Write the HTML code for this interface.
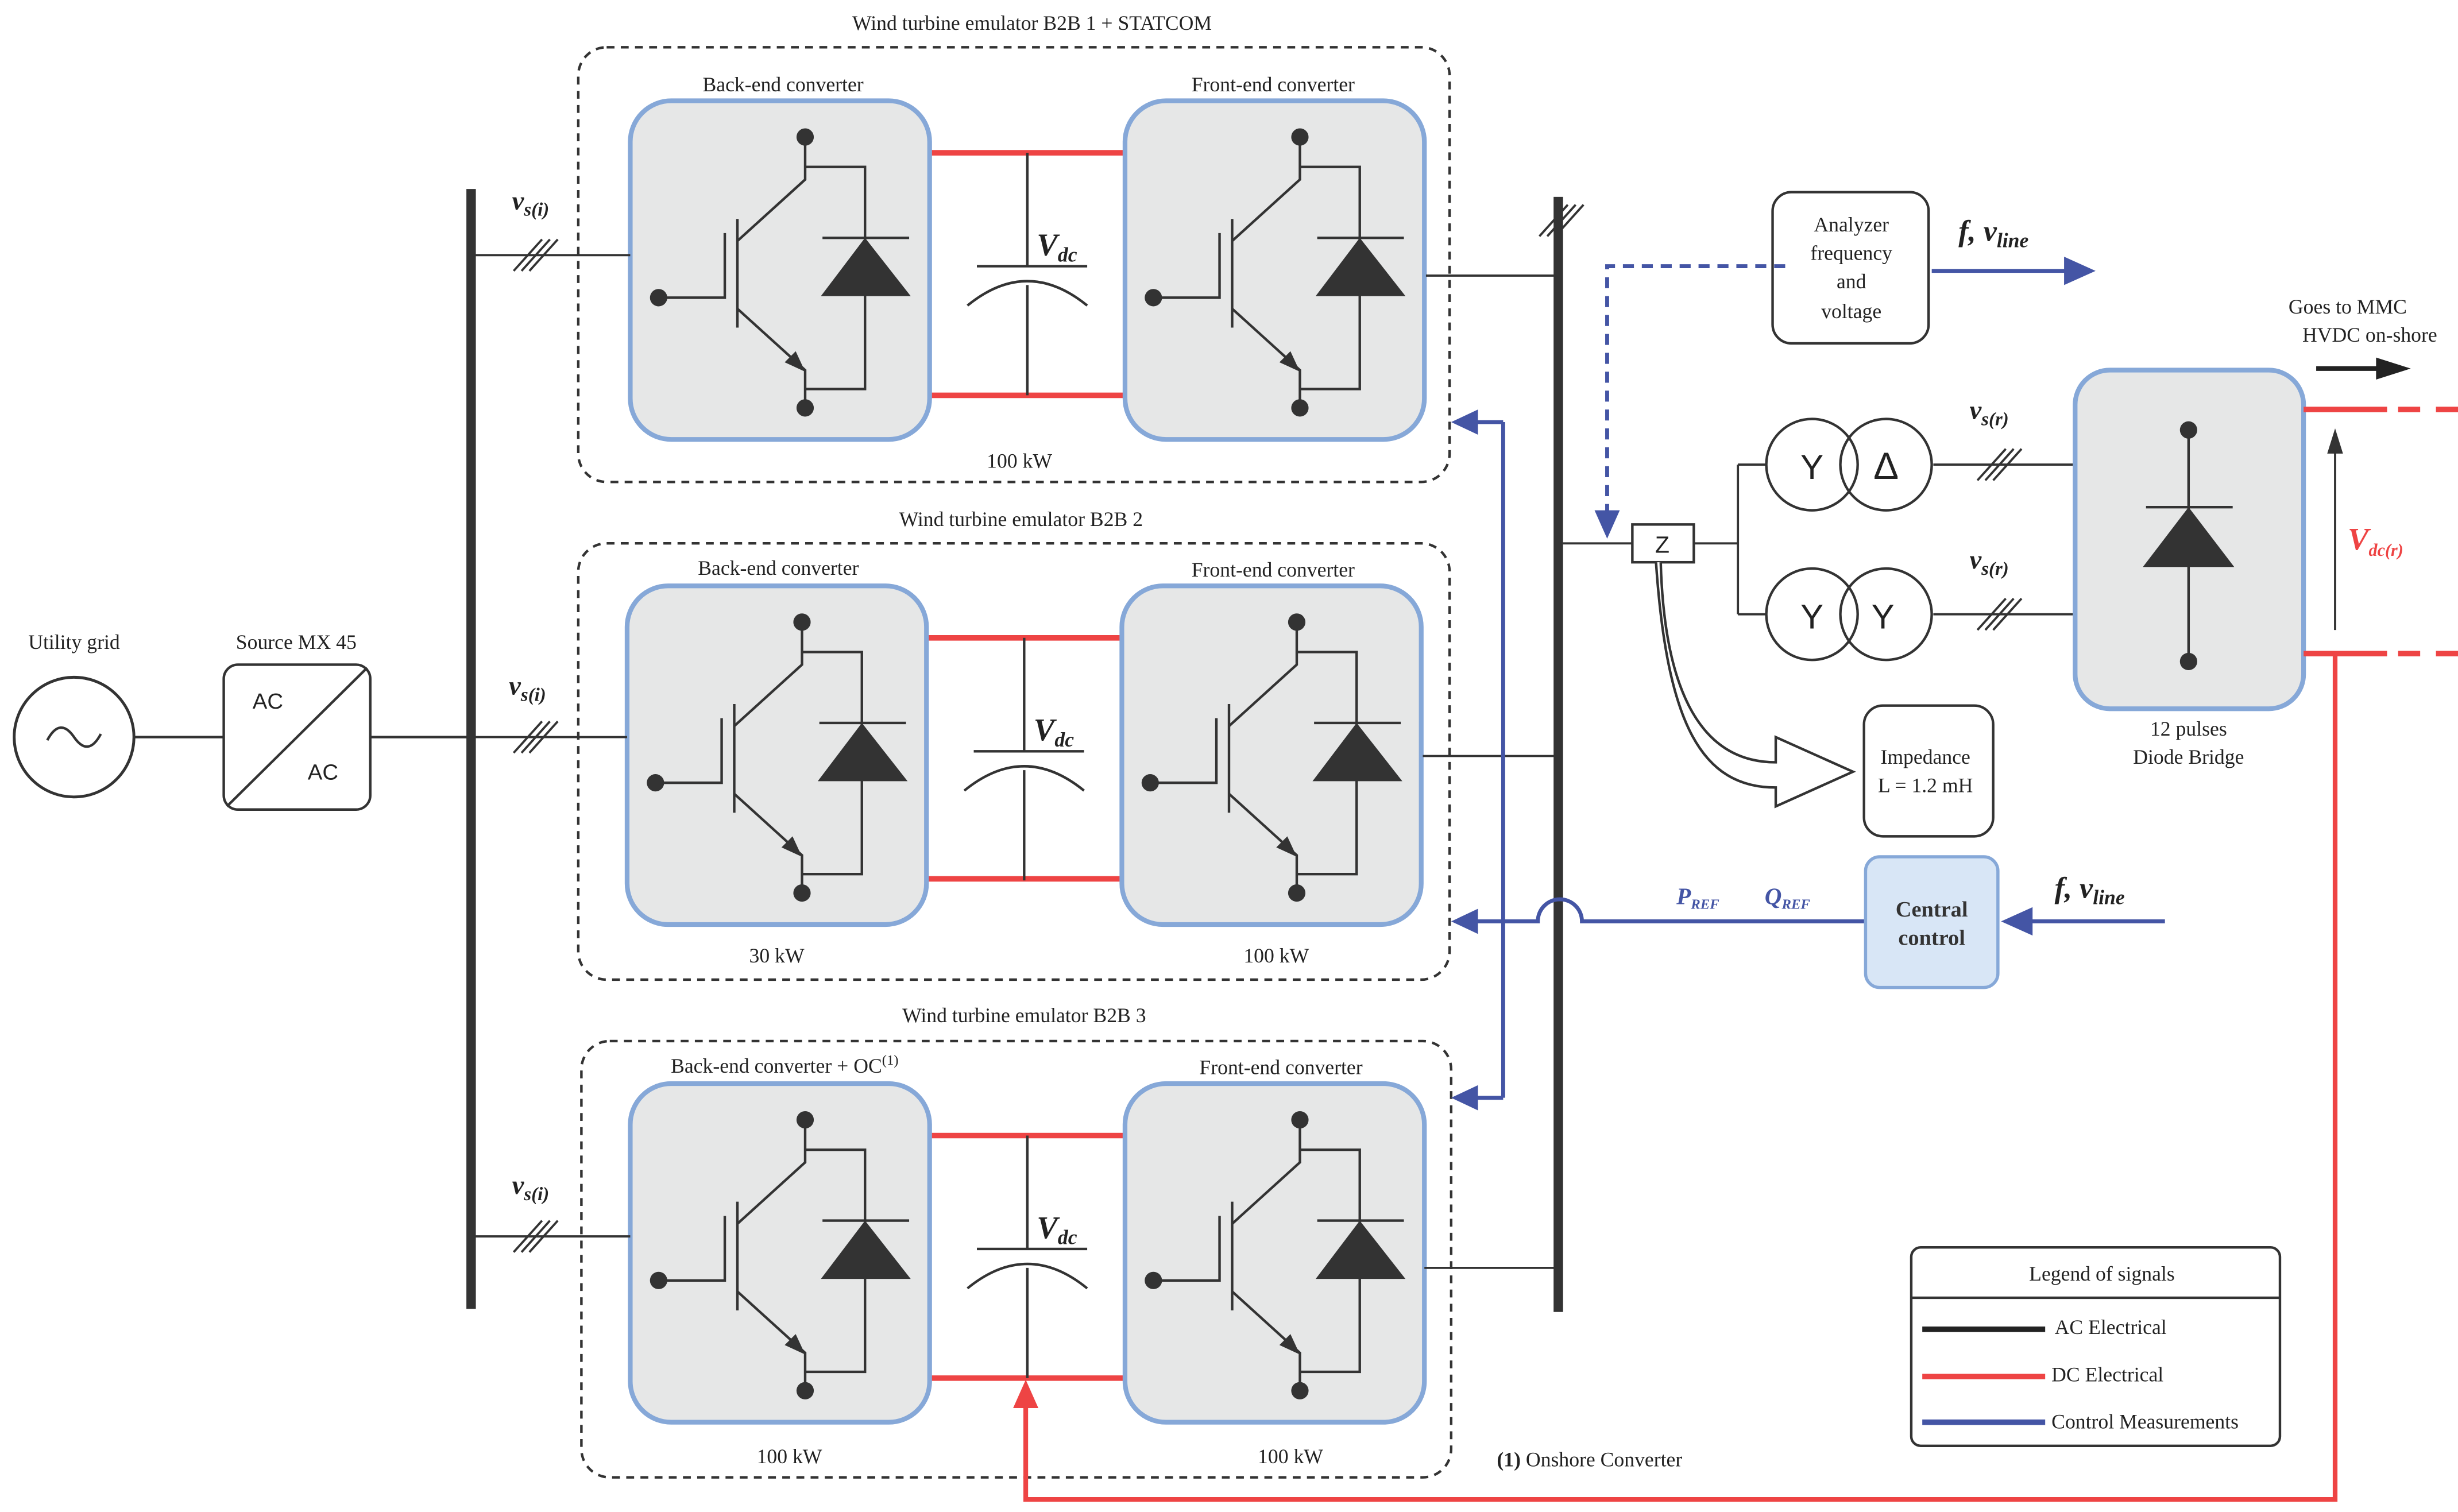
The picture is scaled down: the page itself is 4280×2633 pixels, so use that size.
<!DOCTYPE html>
<html><head><meta charset="utf-8"><style>
html,body{margin:0;padding:0;background:#fff;}
svg{display:block;}
text{font-family:"Liberation Serif",serif;fill:#222;}
.t{font-size:13px;}
.m{font-family:"Liberation Serif",serif;font-style:italic;font-weight:bold;}
</style></head><body>
<svg width="4280" height="2633" viewBox="0 0 1560 960" preserveAspectRatio="none" xmlns="http://www.w3.org/2000/svg">
<defs>
<g id="sw">
<rect x="0" y="0" width="190" height="215" rx="26" fill="#e6e7e7" stroke="#86a8d8" stroke-width="3"/>
<g stroke="#333" stroke-width="1.6" fill="none">
<path d="M111,23 V50 L68,89"/>
<path d="M111,42 H149 V183 H111"/>
<path d="M68,75 V144"/>
<path d="M60,84 V125 H18"/>
<path d="M68,132 L111,171 V195"/>
<path d="M122,87 H177"/>
</g>
<polygon points="149,87 121,124 178,124" fill="#333"/>
<polygon points="111,172 98,166 105,159" fill="#333"/>
<circle cx="111" cy="23" r="5.5" fill="#333"/>
<circle cx="111" cy="195" r="5.5" fill="#333"/>
<circle cx="18" cy="125" r="5.5" fill="#333"/>
</g>
<g id="cap">
<path d="M0,0 V72 M-32,72 H38 M0,84 V154" stroke="#333" stroke-width="1.6" fill="none"/>
<path d="M-38,97 Q0,66 38,97" stroke="#333" stroke-width="1.6" fill="none"/>
</g>
<g id="sl" stroke="#333" stroke-width="1.4"><path d="M-12,10 L6,-10 M-7,10 L11,-10 M-2,10 L16,-10"/></g>
</defs>

<!-- utility grid -->
<circle cx="47" cy="468" r="38" fill="#fff" stroke="#333" stroke-width="1.8"/>
<path d="M30,470 Q38,455 47,468 Q56,481 64,466" stroke="#333" stroke-width="1.6" fill="none"/>
<text x="47" y="412" text-anchor="middle" class="t">Utility grid</text>
<path d="M85,468 H142 M235,468 H300" stroke="#333" stroke-width="1.6"/>
<rect x="142" y="422" width="93" height="92" rx="9" fill="#fff" stroke="#333" stroke-width="1.6"/>
<path d="M144,512 L233,424" stroke="#333" stroke-width="1.6"/>
<text x="170" y="450" text-anchor="middle" font-family="Liberation Sans" style="font-family:'Liberation Sans',sans-serif" font-size="14">AC</text>
<text x="205" y="495" text-anchor="middle" style="font-family:'Liberation Sans',sans-serif" font-size="14">AC</text>
<text x="188" y="412" text-anchor="middle" class="t">Source MX 45</text>

<!-- buses -->
<rect x="296" y="120" width="6" height="711" fill="#333"/>
<rect x="986" y="125" width="6" height="708" fill="#333"/>

<!-- dashed boxes -->
<g fill="none" stroke="#333" stroke-width="1.6" stroke-dasharray="5,4">
<rect x="367" y="30" width="553" height="276" rx="18"/>
<rect x="367" y="345" width="553" height="277" rx="18"/>
<rect x="369" y="661" width="552" height="277" rx="18"/>
</g>
<text x="655" y="19" text-anchor="middle" class="t">Wind turbine emulator B2B 1 + STATCOM</text>
<text x="648" y="334" text-anchor="middle" class="t">Wind turbine emulator B2B 2</text>
<text x="650" y="649" text-anchor="middle" class="t">Wind turbine emulator B2B 3</text>

<!-- B2B1 -->
<path d="M589,97 H714 M589,251 H714" stroke="#ee4444" stroke-width="3.5"/>
<use href="#cap" x="652" y="97"/>
<text x="658" y="162" class="m" font-size="20">V<tspan font-size="13" dy="4">dc</tspan></text>
<use href="#sw" x="400" y="64"/>
<use href="#sw" x="714" y="64"/>
<text x="497" y="58" text-anchor="middle" class="t">Back-end converter</text>
<text x="808" y="58" text-anchor="middle" class="t">Front-end converter</text>
<text x="647" y="297" text-anchor="middle" class="t">100 kW</text>
<path d="M300,162 H400 M905,175 H989" stroke="#333" stroke-width="1.4"/>
<use href="#sl" x="338" y="162"/>
<text x="325" y="133" class="m" font-size="17">v<tspan font-size="12" dy="4">s(i)</tspan></text>

<!-- B2B2 -->
<path d="M587,405 H712 M587,558 H712" stroke="#ee4444" stroke-width="3.5"/>
<use href="#cap" x="650" y="405"/>
<text x="656" y="470" class="m" font-size="20">V<tspan font-size="13" dy="4">dc</tspan></text>
<use href="#sw" x="398" y="372"/>
<use href="#sw" x="712" y="372"/>
<text x="494" y="365" text-anchor="middle" class="t">Back-end converter</text>
<text x="808" y="366" text-anchor="middle" class="t">Front-end converter</text>
<text x="493" y="611" text-anchor="middle" class="t">30 kW</text>
<text x="810" y="611" text-anchor="middle" class="t">100 kW</text>
<path d="M300,468 H398 M903,480 H989" stroke="#333" stroke-width="1.4"/>
<use href="#sl" x="338" y="468"/>
<text x="323" y="441" class="m" font-size="17">v<tspan font-size="12" dy="4">s(i)</tspan></text>

<!-- B2B3 -->
<path d="M590,721 H714 M590,875 H714" stroke="#ee4444" stroke-width="3.5"/>
<use href="#cap" x="652" y="721"/>
<text x="658" y="786" class="m" font-size="20">V<tspan font-size="13" dy="4">dc</tspan></text>
<use href="#sw" x="400" y="688"/>
<use href="#sw" x="714" y="688"/>
<text x="498" y="681" text-anchor="middle" class="t">Back-end converter + OC<tspan font-size="9" dy="-5">(1)</tspan></text>
<text x="813" y="682" text-anchor="middle" class="t">Front-end converter</text>
<text x="501" y="929" text-anchor="middle" class="t">100 kW</text>
<text x="819" y="929" text-anchor="middle" class="t">100 kW</text>
<path d="M300,785 H400 M904,805 H989" stroke="#333" stroke-width="1.4"/>
<use href="#sl" x="338" y="785"/>
<text x="325" y="758" class="m" font-size="17">v<tspan font-size="12" dy="4">s(i)</tspan></text>

<!-- right bus top slashes -->
<use href="#sl" x="989" y="140"/>

<!-- blue control -->
<path d="M954,268 V697 M954,268 H930 M954,697 H930" stroke="#4455a5" stroke-width="2.5" fill="none"/>
<polygon points="921,268 938,260 938,276" fill="#4455a5"/>
<polygon points="921,697 938,689 938,705" fill="#4455a5"/>
<path d="M1184,585 H1004 A14,14 0 0 0 976,585 H930" stroke="#4455a5" stroke-width="2.5" fill="none"/>
<polygon points="921,585 938,577 938,593" fill="#4455a5"/>
<text x="1064" y="574" class="m" font-size="15" style="fill:#4455a5">P<tspan font-size="9" dy="3">REF</tspan></text>
<text x="1120" y="574" class="m" font-size="15" style="fill:#4455a5">Q<tspan font-size="9" dy="3">REF</tspan></text>
<rect x="1184" y="544" width="84" height="83" rx="9" fill="#d8e6f6" stroke="#86a8d8" stroke-width="2"/>
<text x="1226" y="582" text-anchor="middle" font-size="14" font-weight="bold" style="fill:#333">Central</text>
<text x="1226" y="600" text-anchor="middle" font-size="14" font-weight="bold" style="fill:#333">control</text>
<path d="M1374,585 H1285" stroke="#4455a5" stroke-width="2.5"/>
<polygon points="1270,585 1290,576 1290,594" fill="#4455a5"/>
<text x="1304" y="570" class="m" font-size="19">f, v<tspan font-size="13" dy="4">line</tspan></text>

<!-- analyzer -->
<rect x="1125" y="122" width="99" height="96" rx="12" fill="#fff" stroke="#333" stroke-width="1.6"/>
<text x="1175" y="147" text-anchor="middle" class="t">Analyzer</text>
<text x="1175" y="165" text-anchor="middle" class="t">frequency</text>
<text x="1175" y="183" text-anchor="middle" class="t">and</text>
<text x="1175" y="202" text-anchor="middle" class="t">voltage</text>
<path d="M1226,172 H1312" stroke="#4455a5" stroke-width="2.5"/>
<polygon points="1330,172 1310,163 1310,181" fill="#4455a5"/>
<text x="1243" y="153" class="m" font-size="19">f, v<tspan font-size="13" dy="4">line</tspan></text>
<path d="M1133,169 H1020 V326" stroke="#4455a5" stroke-width="2.5" stroke-dasharray="7,5" fill="none"/>
<polygon points="1020,342 1012,324 1028,324" fill="#4455a5"/>

<!-- Z and transformers -->
<path d="M992,345 H1036 M1075,345 H1103 M1103,295 V390 M1103,295 H1121 M1103,390 H1121 M1227,295 H1317 M1227,390 H1317" stroke="#333" stroke-width="1.4" fill="none"/>
<rect x="1036" y="333" width="39" height="24" fill="#fff" stroke="#333" stroke-width="1.6"/>
<text x="1055" y="351" text-anchor="middle" style="font-family:'Liberation Sans',sans-serif" font-size="15">Z</text>
<g fill="none" stroke="#333" stroke-width="1.6">
<circle cx="1150" cy="295" r="29"/><circle cx="1197" cy="295" r="29"/>
<circle cx="1150" cy="390" r="29"/><circle cx="1197" cy="390" r="29"/>
</g>
<text x="1150" y="304" text-anchor="middle" style="font-family:'Liberation Sans',sans-serif" font-size="22">Y</text>
<text x="1197" y="304" text-anchor="middle" style="font-family:'Liberation Sans',sans-serif" font-size="24">Δ</text>
<text x="1150" y="399" text-anchor="middle" style="font-family:'Liberation Sans',sans-serif" font-size="22">Y</text>
<text x="1195" y="399" text-anchor="middle" style="font-family:'Liberation Sans',sans-serif" font-size="22">Y</text>
<use href="#sl" x="1267" y="295"/>
<use href="#sl" x="1267" y="390"/>
<text x="1250" y="266" class="m" font-size="17">v<tspan font-size="12" dy="4">s(r)</tspan></text>
<text x="1250" y="361" class="m" font-size="17">v<tspan font-size="12" dy="4">s(r)</tspan></text>

<!-- hollow arrow to impedance -->
<path d="M1054,357 C1056,430 1075,484 1127,484 L1127,468 L1176,490 L1127,512 L1127,500 C1080,500 1058,460 1051,357" fill="#fff" stroke="#333" stroke-width="1.6"/>
<rect x="1183" y="448" width="82" height="83" rx="12" fill="#fff" stroke="#333" stroke-width="1.6"/>
<text x="1222" y="485" text-anchor="middle" class="t">Impedance</text>
<text x="1222" y="503" text-anchor="middle" class="t">L = 1.2 mH</text>

<!-- diode bridge -->
<rect x="1317" y="235" width="145" height="215" rx="22" fill="#e6e7e7" stroke="#86a8d8" stroke-width="3"/>
<path d="M1389,273 V420 M1362,322 H1417" stroke="#333" stroke-width="1.6"/>
<polygon points="1389,322 1360,360 1418,360" fill="#333"/>
<circle cx="1389" cy="273" r="5.5" fill="#333"/>
<circle cx="1389" cy="420" r="5.5" fill="#333"/>
<text x="1389" y="467" text-anchor="middle" class="t">12 pulses</text>
<text x="1389" y="485" text-anchor="middle" class="t">Diode Bridge</text>
<text x="1490" y="199" text-anchor="middle" class="t">Goes to MMC</text>
<text x="1504" y="217" text-anchor="middle" class="t">HVDC on-shore</text>
<path d="M1470,234 H1510" stroke="#222" stroke-width="3"/>
<polygon points="1530,234 1508,227 1508,241" fill="#222"/>
<path d="M1462,260 H1515 M1462,415 H1515" stroke="#ee4444" stroke-width="3.5"/>
<path d="M1522,260 H1560 M1522,415 H1560" stroke="#ee4444" stroke-width="3.5" stroke-dasharray="14,10"/>
<path d="M1482,400 V285" stroke="#333" stroke-width="1.4"/>
<polygon points="1482,272 1477,288 1487,288" fill="#333"/>
<text x="1490" y="349" class="m" font-size="20" style="fill:#ee4444">V<tspan font-size="11" dy="4">dc(r)</tspan></text>
<path d="M1482,415 V952 H651 V892" stroke="#ee4444" stroke-width="3" fill="none"/>
<polygon points="651,876 643,894 659,894" fill="#ee4444"/>

<!-- legend -->
<rect x="1213" y="792" width="234" height="126" rx="6" fill="#fff" stroke="#333" stroke-width="1.6"/>
<path d="M1213,824 H1447" stroke="#333" stroke-width="1.6"/>
<text x="1334" y="813" text-anchor="middle" class="t">Legend of signals</text>
<path d="M1220,844 H1298" stroke="#222" stroke-width="3.5"/>
<path d="M1220,874 H1298" stroke="#ee4444" stroke-width="3.5"/>
<path d="M1220,903 H1298" stroke="#4455a5" stroke-width="3.5"/>
<text x="1304" y="847" class="t">AC Electrical</text>
<text x="1302" y="877" class="t">DC Electrical</text>
<text x="1302" y="907" class="t">Control Measurements</text>
<text x="950" y="931" class="t"><tspan font-weight="bold">(1)</tspan> Onshore Converter</text>
</svg>
</body></html>
